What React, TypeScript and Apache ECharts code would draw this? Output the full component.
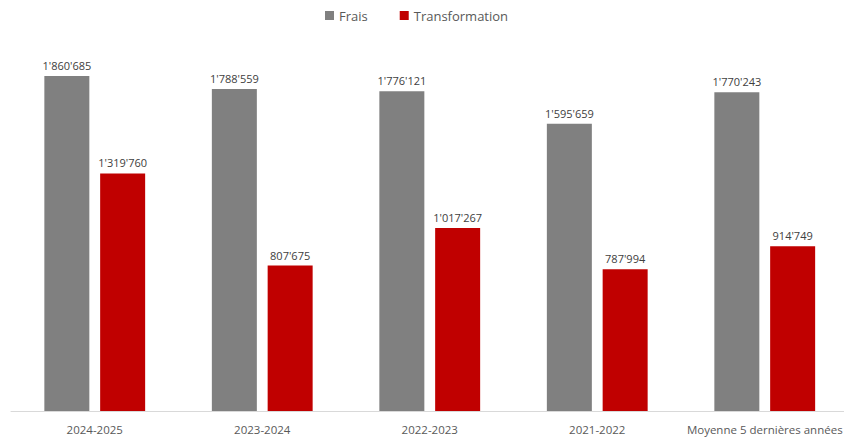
import React, { useEffect, useRef } from "react";
import * as echarts from "echarts";

const categories = ["2024-2025", "2023-2024", "2022-2023", "2021-2022", "Moyenne 5 dernières années"];
const frais = [1860685, 1788559, 1776121, 1595659, 1770243];
const transformation = [1319760, 807675, 1017267, 787994, 914749];

const fmt = (v: number) => String(Math.round(v)).replace(/\B(?=(\d{3})+(?!\d))/g, "'");

const FONT = "'Open Sans', 'Noto Sans', sans-serif";

export default function App() {
  const ref = useRef<HTMLDivElement>(null);
  useEffect(() => {
    if (!ref.current) return;
    const chart = echarts.init(ref.current, undefined, { renderer: "svg" });
    const label = {
      show: true,
      position: "top" as const,
      distance: 5,
      color: "#404040",
      fontFamily: FONT,
      fontSize: 11,
      formatter: (p: any) => fmt(p.value),
    };
    chart.setOption({
      animation: false,
      legend: {
        top: 4,
        left: 320,
        itemWidth: 9,
        itemHeight: 9,
        itemGap: 32,
        icon: "rect",
        textStyle: { color: "#595959", fontFamily: FONT, fontSize: 13 },
        data: ["Frais", "Transformation"],
      },
      grid: { left: 11, width: 837.5, top: 51, bottom: 28, containLabel: false },
      xAxis: {
        type: "category",
        data: categories,
        axisLine: { lineStyle: { color: "#d9d9d9", width: 1 } },
        axisTick: { show: false },
        axisLabel: { interval: 0, color: "#595959", fontFamily: FONT, fontSize: 11.5, margin: 12 },
      },
      yAxis: {
        type: "value",
        min: 0,
        max: 2000000,
        show: false,
        splitLine: { show: false },
      },
      series: [
        {
          name: "Frais",
          type: "bar",
          data: frais,
          barWidth: 45,
          barGap: "24%",
          itemStyle: { color: "#808080" },
          label,
        },
        {
          name: "Transformation",
          type: "bar",
          data: transformation,
          barWidth: 45,
          barGap: "24%",
          itemStyle: { color: "#C00000" },
          label,
        },
      ],
    });
    return () => chart.dispose();
  }, []);
  return (
    <div style={{ width: 844, height: 439, position: "absolute", left: 0, top: 0, overflow: "hidden" }}>
      <div ref={ref} style={{ width: 852, height: 439 }} />
    </div>
  );
}
